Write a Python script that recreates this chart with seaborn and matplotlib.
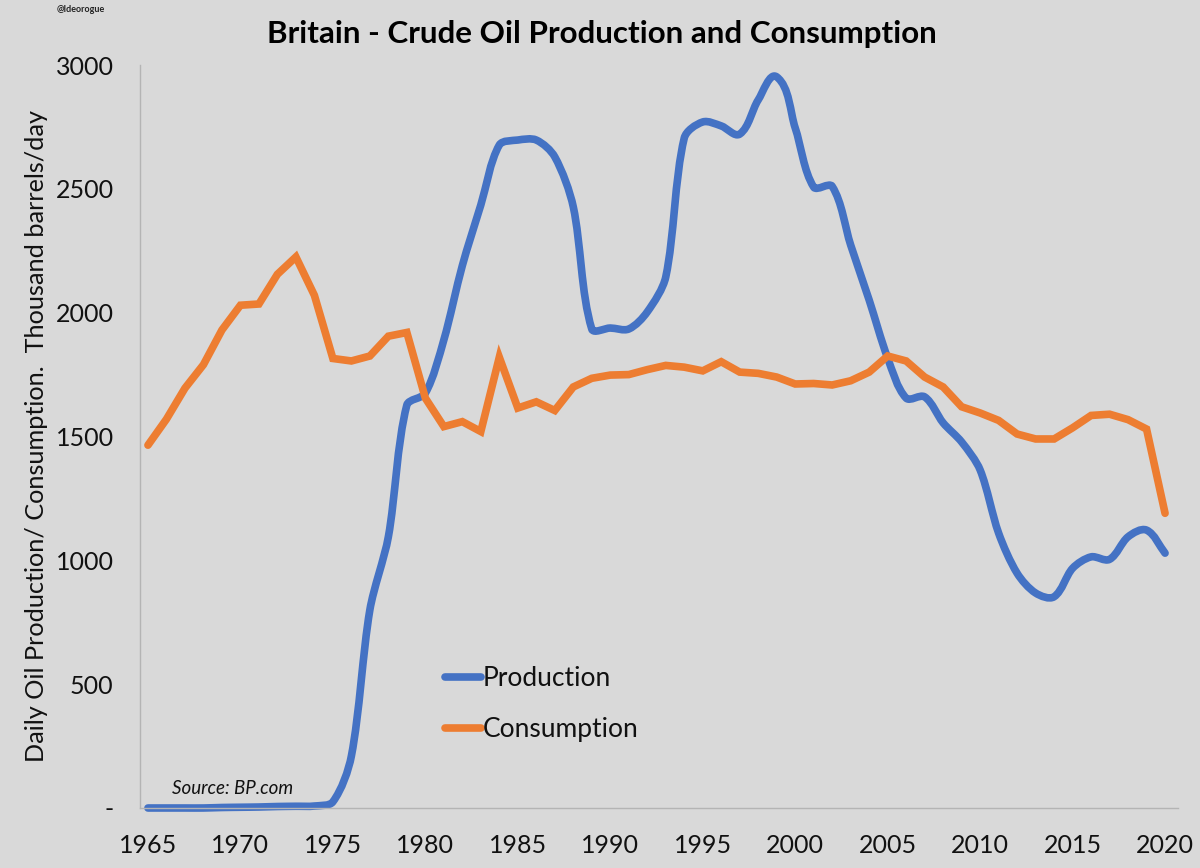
import numpy as np
import pandas as pd
import matplotlib
matplotlib.use("Agg")
import matplotlib.pyplot as plt
from matplotlib.path import Path
from matplotlib.patches import PathPatch
from matplotlib.ticker import FuncFormatter
import seaborn as sns

years = list(range(1965, 2021))
production = [0,0,0,0,2,3,4,6,7,8,25,210,800,1095,1627,1675,1890,2190,2435,2677,2697,2697,2629,2427,1934,1938,1934,2003,2144,2705,2770,2754,2721,2859,2952,2746,2507,2510,2273,2051,1817,1655,1660,1555,1478,1365,1110,948,868,853,968,1014,1004,1095,1122,1029]
consumption = [1465,1570,1695,1790,1930,2030,2035,2155,2225,2070,1815,1805,1825,1905,1920,1655,1540,1560,1520,1820,1615,1640,1605,1700,1735,1748,1750,1770,1787,1780,1765,1802,1760,1755,1740,1712,1714,1708,1725,1760,1825,1805,1740,1700,1620,1595,1565,1510,1490,1490,1535,1585,1590,1568,1530,1190]
tick_years = list(range(1965, 2021, 5))
y_ticks = [0,500,1000,1500,2000,2500,3000]
title = "Britain - Crude Oil Production and Consumption"
ylabel = "Daily Oil Production/ Consumption.  Thousand barrels/day"
BLUE = "#4472c4"
ORANGE = "#ed7d31"
INK = "#111111"
LW = 5.5

sns.set_theme(style="white", rc={"figure.facecolor":"#d9d9d9","axes.facecolor":"#d9d9d9"})
plt.rcParams['font.family'] = ['Lato','DejaVu Sans']
fig = plt.figure(figsize=(12,8.68), dpi=100)
ax = fig.add_axes([140/1200, 1-808/868, (1178-140)/1200, (808-65)/868])
df = pd.DataFrame({"Year":years,"Production":production,"Consumption":consumption})
sns.lineplot(data=df,x="Year",y="Production",color=BLUE,lw=LW,ax=ax)
sns.lineplot(data=df,x="Year",y="Consumption",color=ORANGE,lw=LW,ax=ax)

ax.set_xlim(1964.57,2020.7)
ax.set_ylim(0,3000)

# The reference uses a spreadsheet "smoothed line" for production: draw the same
# yearly values as Bezier segments instead of straight ones.
prod_line, cons_line = ax.get_lines()[:2]
cons_line.set_solid_capstyle("round")
cons_line.set_solid_joinstyle("miter")
xs, ys = [np.asarray(a, dtype=float) for a in prod_line.get_data()]
P = ax.transData.transform(np.column_stack([xs, ys]))
n = len(P)
tang = []
for i in range(n):
    d = P[min(i+1,n-1)] - P[max(i-1,0)]
    tang.append(d/np.hypot(*d))
verts = [tuple(P[0])]
codes = [Path.MOVETO]
for i in range(n-1):
    h = np.hypot(*(P[i+1]-P[i]))*0.3
    verts += [tuple(P[i]+tang[i]*h), tuple(P[i+1]-tang[i+1]*h), tuple(P[i+1])]
    codes += [Path.CURVE4]*3
prod_line.set_visible(False)
ax.add_patch(PathPatch(Path(ax.transData.inverted().transform(np.array(verts)),codes),facecolor="none",edgecolor=BLUE,lw=LW,capstyle="round",joinstyle="round",clip_on=False,zorder=cons_line.get_zorder()-0.5))

ax.set_xticks(tick_years)
ax.set_yticks(y_ticks)
ax.yaxis.set_major_formatter(FuncFormatter(lambda v,p:"-" if v==0 else f"{int(v)}"))
ax.tick_params(axis="both",labelsize=18,colors=INK,length=0)
ax.tick_params(axis="y",pad=19)
ax.tick_params(axis="x",pad=19)
for label in ax.get_yticklabels():
    label.set_y(label.get_position()[1])
for s in ["top","right"]:
    ax.spines[s].set_visible(False)
for s in ["left","bottom"]:
    ax.spines[s].set_color("#b4b4b4")
    ax.spines[s].set_linewidth(1)
ax.set_xlabel("")
ax.set_ylabel("")
fig.text(37/1200,1-436/868,ylabel,rotation=90,ha="center",va="center",fontsize=18.2,color=INK)
fig.text(602/1200,1-34/868,title,ha="center",va="center",fontsize=22.6,fontweight="bold",color="black")
fig.text(57/1200,1-9/868,"@Ideorogue",ha="left",va="center",fontsize=6.5,fontweight="bold",color="#222222")
fig.text(172/1200,1-788/868,"Source: BP.com",ha="left",va="center",fontsize=13.5,style="italic",color=INK)
for lab,col,yy in [("Production",BLUE,677),("Consumption",ORANGE,728)]:
    fig.add_artist(plt.Line2D([445/1200,481/1200],[1-yy/868,1-yy/868],color=col,lw=LW,solid_capstyle="round"))
    fig.text(483/1200,1-(yy+1.5)/868,lab,ha="left",va="center",fontsize=19,color=INK)
fig.savefig("out.png",dpi=100,facecolor=fig.get_facecolor())
